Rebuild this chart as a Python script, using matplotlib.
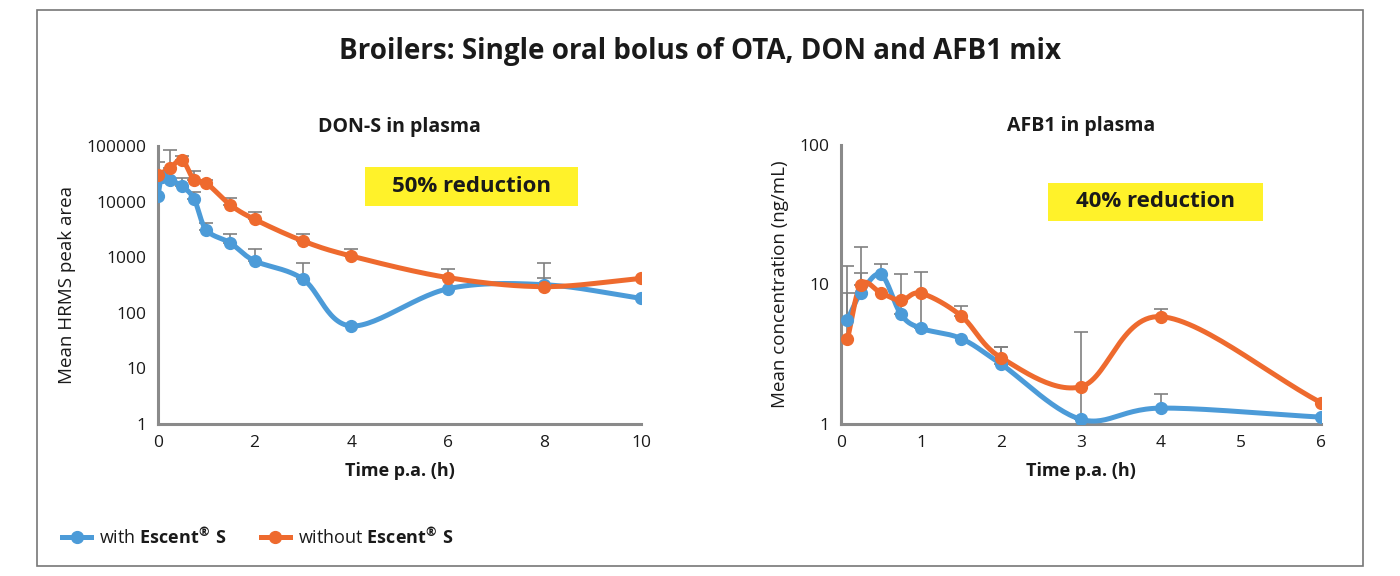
import numpy as np
import matplotlib
matplotlib.use('Agg')
import matplotlib.pyplot as plt
from matplotlib.patches import Rectangle
from matplotlib.lines import Line2D

plt.rcParams['font.family'] = ['Open Sans', 'DejaVu Sans']
plt.rcParams['mathtext.fontset'] = 'custom'
plt.rcParams['mathtext.rm'] = 'Open Sans'
plt.rcParams['mathtext.bf'] = 'Open Sans:bold'

# DON-S in plasma (mean HRMS peak area)
don_t = [0, 0.08, 0.25, 0.5, 0.75, 1, 1.5, 2, 3, 4, 6, 8, 10]
don_with = [12800, 28000, 24500, 19000, 11000, 3100, 1800, 860, 405, 58, 270, 320, 182]
don_t_wo = [0, 0.25, 0.5, 0.75, 1, 1.5, 2, 3, 4, 6, 8, 10]
don_without = [30000, 40000, 56000, 24000, 21500, 8700, 4800, 1960, 1050, 430, 295, 415]
don_err_with_t = [0, 0.5, 0.75, 1, 1.5, 2, 3, 8]
don_err_with_top = [24500, 27000, 15000, 4150, 2600, 1400, 780, 780]
don_err_wo_t = [0, 0.25, 0.5, 0.75, 1, 1.5, 2, 3, 4, 6, 8]
don_err_wo_top = [51000, 83000, 66000, 35000, 24500, 11500, 6600, 2600, 1400, 610, 420]

# AFB1 in plasma (ng/mL)
afb_t = [0.08, 0.25, 0.5, 0.75, 1, 1.5, 2, 3, 4, 6]
afb_with = [5.6, 8.7, 11.8, 6.1, 4.85, 4.1, 2.69, 1.08, 1.30, 1.12]
afb_without = [4.05, 10.0, 8.7, 7.7, 8.65, 5.97, 2.99, 1.85, 5.88, 1.42]
afb_err_with_t = [0.08, 0.25, 0.5, 0.75, 1, 2, 3, 4]
afb_err_with_top = [13.6, 12.0, 14.1, 11.8, 12.2, 3.55, 4.6, 1.64]
afb_err_wo_t = [0.08, 0.25, 1.5, 2, 4]
afb_err_wo_top = [8.7, 18.5, 7.05, 3.55, 6.64]

BLUE = '#4C9BD8'
ORANGE = '#EE6A2E'
GRAY = '#808080'
TXT = '#1a1a1a'


def smooth(x, y, n=30):
    # Catmull-Rom through points in (x, log y) space, like Excel smoothed lines
    x = np.asarray(x, float)
    ly = np.log10(np.asarray(y, float))
    px = np.concatenate([[2 * x[0] - x[1]], x, [2 * x[-1] - x[-2]]])
    py = np.concatenate([[2 * ly[0] - ly[1]], ly, [2 * ly[-1] - ly[-2]]])
    xs, ys = [], []
    t = np.linspace(0, 1, n)
    for i in range(1, len(px) - 2):
        for p, out in ((px, xs), (py, ys)):
            p0, p1, p2, p3 = p[i - 1], p[i], p[i + 1], p[i + 2]
            seg = 0.5 * ((2 * p1) + (-p0 + p2) * t + (2 * p0 - 5 * p1 + 4 * p2 - p3) * t ** 2
                         + (-p0 + 3 * p1 - 3 * p2 + p3) * t ** 3)
            out.extend(seg)
    return np.array(xs), 10 ** np.array(ys)


def draw_series(ax, t, y, color, et, etop):
    ypt = dict(zip(t, y))
    for xe, top in zip(et, etop):
        yb = ypt[xe]
        ax.errorbar([xe], [yb], yerr=[[0], [top - yb]], fmt='none', ecolor=GRAY,
                    elinewidth=1.2, capsize=5, capthick=1.2, zorder=2)
    sx, sy = smooth(t, y)
    ax.plot(sx, sy, color=color, lw=3.6, zorder=3, solid_capstyle='round')
    ax.plot(t, y, 'o', color=color, ms=8.5, zorder=4)


def style_axes(ax):
    ax.set_yscale('log')
    for s in ['top', 'right']:
        ax.spines[s].set_visible(False)
    for s in ['left', 'bottom']:
        ax.spines[s].set_color('#8a8a8a')
        ax.spines[s].set_linewidth(2.2)
    ax.tick_params(length=0, labelsize=12.5, pad=8, labelcolor=TXT)
    ax.minorticks_off()


def label_box(ax, cx, cy, w, h, text):
    ax.add_patch(Rectangle((cx - w / 2, cy - h / 2), w, h, transform=ax.transAxes,
                           fc='#FFF22A', ec='none', zorder=5, clip_on=False))
    ax.text(cx, cy, text, transform=ax.transAxes, ha='center', va='center',
            fontsize=16, fontweight='bold', color=TXT, zorder=6)


fig = plt.figure(figsize=(14, 5.76), dpi=100)
fig.patches.append(Rectangle((37 / 1400, 1 - 566 / 576), 1326 / 1400, 556 / 576,
                             transform=fig.transFigure, fill=False, ec='#777777', lw=1.2))

fig.text(0.5, 1 - 52 / 576, 'Broilers: Single oral bolus of OTA, DON and AFB1 mix',
         ha='center', va='center', fontsize=20, fontweight='bold', color=TXT)

# left panel
ax1 = fig.add_axes([158 / 1400, 1 - 424 / 576, 483 / 1400, 278 / 576])
draw_series(ax1, don_t, don_with, BLUE, don_err_with_t, don_err_with_top)
draw_series(ax1, don_t_wo, don_without, ORANGE, don_err_wo_t, don_err_wo_top)
style_axes(ax1)
ax1.set_xlim(0, 10)
ax1.set_ylim(1, 100000)
ax1.set_xticks([0, 2, 4, 6, 8, 10])
ax1.set_yticks([1, 10, 100, 1000, 10000, 100000])
ax1.set_yticklabels(['1', '10', '100', '1000', '10000', '100000'])
ax1.set_xlabel('Time p.a. (h)', fontsize=13, fontweight='bold', labelpad=8, color=TXT)
ax1.set_ylabel('Mean HRMS peak area', fontsize=13.5, labelpad=8, color=TXT)
ax1.set_title('DON-S in plasma', fontsize=14, fontweight='bold', pad=10, color=TXT)
label_box(ax1, 0.649, 0.854, 0.441, 0.140, '50% reduction')

# right panel
ax2 = fig.add_axes([841 / 1400, 1 - 424 / 576, 480 / 1400, 279 / 576])
draw_series(ax2, afb_t, afb_with, BLUE, afb_err_with_t, afb_err_with_top)
draw_series(ax2, afb_t, afb_without, ORANGE, afb_err_wo_t, afb_err_wo_top)
style_axes(ax2)
ax2.set_xlim(0, 6)
ax2.set_ylim(1, 100)
ax2.set_xticks([0, 1, 2, 3, 4, 5, 6])
ax2.set_yticks([1, 10, 100])
ax2.set_yticklabels(['1', '10', '100'])
ax2.set_xlabel('Time p.a. (h)', fontsize=13, fontweight='bold', labelpad=8, color=TXT)
ax2.set_ylabel('Mean concentration (ng/mL)', fontsize=13.5, labelpad=8, color=TXT)
ax2.set_title('AFB1 in plasma', fontsize=14, fontweight='bold', pad=10, color=TXT)
label_box(ax2, 0.655, 0.796, 0.448, 0.136, '40% reduction')

handles = [Line2D([], [], color=BLUE, lw=3.6, marker='o', ms=8.5),
           Line2D([], [], color=ORANGE, lw=3.6, marker='o', ms=8.5)]
fig.legend(handles, ['with $\\mathbf{Escent^{®}\\ S}$', 'without $\\mathbf{Escent^{®}\\ S}$'],
           loc='center left', bbox_to_anchor=(46 / 1400, 1 - 537 / 576), ncol=2,
           frameon=False, fontsize=13, handlelength=1.6, handletextpad=0.45,
           columnspacing=1.9, labelcolor=TXT)

fig.savefig('out.png', dpi=100)
